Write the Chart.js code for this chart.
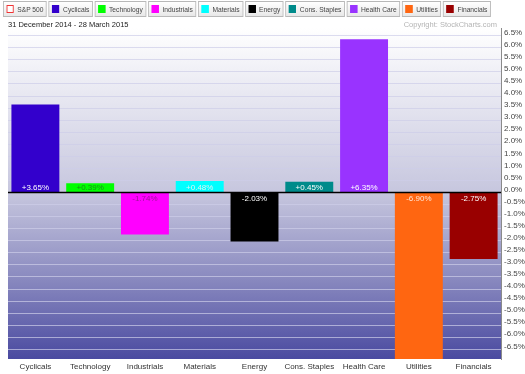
<!DOCTYPE html>
<html>
<head>
<meta charset="utf-8">
<script src="https://cdn.jsdelivr.net/npm/chart.js@4"></script>
<style>
  body { margin: 0; background: #fff; font-family: "Liberation Sans", Arial, sans-serif; }
  #wrap { position: relative; width: 525px; height: 374px; overflow: hidden; }
  #legend { position: absolute; left: 3px; top: 1px; display: flex; gap: 2px; transform-origin: 0 0; }
  .item { height: 14px; border: 1px solid #b8b8b8; background: linear-gradient(#ffffff, #e8e8e8);
    font-size: 7.5px; color: #444; display: flex; align-items: center; padding: 0 3px 0 3px; white-space: nowrap; }
  .sw { width: 6px; height: 6px; margin-right: 4px; border: 1px solid transparent; }
  #title { position: absolute; left: 8px; top: 20px; font-size: 7.5px; color: #222; }
  #copy { position: absolute; right: 28px; top: 20px; font-size: 7.5px; color: #b4b4b4; }
  canvas { position: absolute; left: 0; top: 0; }
</style>
</head>
<body>
<div id="wrap">
  <canvas id="chart" width="525" height="374"></canvas>
  <div id="legend"></div>
  <div id="title">31 December 2014 - 28 March 2015</div>
  <div id="copy">Copyright: StockCharts.com</div>
</div>
<script>
// sectors, performance in % over the period
const sectors = ["Cyclicals", "Technology", "Industrials", "Materials", "Energy", "Cons. Staples", "Health Care", "Utilities", "Financials"];
const changes = [3.65, 0.39, -1.74, 0.48, -2.03, 0.45, 6.35, -6.90, -2.75];
const changeLabels = ["+3.65%", "+0.39%", "-1.74%", "+0.48%", "-2.03%", "+0.45%", "+6.35%", "-6.90%", "-2.75%"];
const yTicks = [6.5, 6.0, 5.5, 5.0, 4.5, 4.0, 3.5, 3.0, 2.5, 2.0, 1.5, 1.0, 0.5, 0.0,
  -0.5, -1.0, -1.5, -2.0, -2.5, -3.0, -3.5, -4.0, -4.5, -5.0, -5.5, -6.0, -6.5];
const benchmark = "S&P 500";

const barColors = ["#3300cc", "#00ff00", "#ff00ff", "#00ffff", "#000000", "#008b8b", "#9933ff", "#ff6611", "#990000"];
const labelColors = ["#ffffff", "#1c8c1c", "#a0109c", "#d8f4f4", "#ffffff", "#ffffff", "#ffffff", "#ffe6d6", "#ffffff"];

// legend boxes on top
var leg = document.getElementById("legend");
var legItems = [{ name: benchmark, color: "#ffffff", border: "#ee3333" }].concat(
  sectors.map((s, i) => ({ name: s, color: barColors[i], border: barColors[i] }))
);
legItems.forEach((it) => {
  var d = document.createElement("div");
  d.className = "item";
  d.innerHTML = '<span class="sw" style="background:' + it.color + ';border-color:' + it.border + '"></span>' + it.name;
  leg.appendChild(d);
});
// squeeze the row so it ends where the reference one does
var lw = leg.getBoundingClientRect().width;
if (lw > 488) leg.style.transform = "scaleX(" + (488 / lw) + ")";

const bgPlugin = {
  id: "bg",
  beforeDraw(chart) {
    const { ctx, chartArea: a } = chart;
    var g = ctx.createLinearGradient(0, a.top, 0, a.bottom);
    g.addColorStop(0, "#ffffff");
    g.addColorStop(0.5, "#c6c6de");
    g.addColorStop(0.75, "#8b8bc0");
    g.addColorStop(1, "#4a4aa0");
    ctx.save();
    ctx.fillStyle = g;
    ctx.fillRect(a.left, a.top, a.right - a.left, a.bottom - a.top);
    ctx.restore();
  },
};

const zeroPlugin = {
  id: "zero",
  afterDatasetsDraw(chart) {
    const { ctx, chartArea: a } = chart;
    const y = chart.scales.y.getPixelForValue(0);
    ctx.save();
    ctx.strokeStyle = "#000";
    ctx.lineWidth = 1.5;
    ctx.beginPath();
    ctx.moveTo(a.left, y);
    ctx.lineTo(a.right, y);
    ctx.stroke();
    // value labels near the base of each bar
    ctx.font = "8px 'Liberation Sans', Arial, sans-serif";
    ctx.textAlign = "center";
    ctx.textBaseline = "middle";
    chart.getDatasetMeta(0).data.forEach((bar, i) => {
      ctx.fillStyle = labelColors[i];
      var ty = changes[i] >= 0 ? y - 5 : y + 6;
      ctx.fillText(changeLabels[i], bar.x, ty);
    });
    ctx.restore();
  },
};

new Chart(document.getElementById("chart"), {
  type: "bar",
  data: {
    labels: sectors,
    datasets: [{
      data: changes,
      backgroundColor: barColors,
      borderWidth: 0,
      categoryPercentage: 1,
      barPercentage: 0.875,
    }],
  },
  options: {
    responsive: false,
    animation: false,
    layout: { padding: { top: 28, left: 8, right: 0, bottom: 0 } },
    plugins: { legend: { display: false }, tooltip: { enabled: false } },
    scales: {
      x: {
        grid: { display: false, drawTicks: false },
        border: { display: false },
        ticks: { color: "#333", font: { size: 8, family: "'Liberation Sans', Arial" }, padding: 3, maxRotation: 0 },
        afterFit(s) { s.height = 15; },
      },
      y: {
        position: "right",
        min: -6.9,
        max: 6.82,
        afterBuildTicks(s) { s.ticks = yTicks.map((v) => ({ value: v })); },
        afterFit(s) { s.width = 24; },
        grid: {
          color: "rgba(205,205,232,0.7)",
          drawTicks: false,
        },
        border: { display: true, color: "#8a8a8a" },
        ticks: {
          color: "#444",
          padding: 3,
          labelOffset: -3,
          font: { size: 8, family: "'Liberation Sans', Arial" },
          callback: (v) => v.toFixed(1) + "%",
        },
      },
    },
  },
  plugins: [bgPlugin, zeroPlugin],
});
</script>
</body>
</html>
